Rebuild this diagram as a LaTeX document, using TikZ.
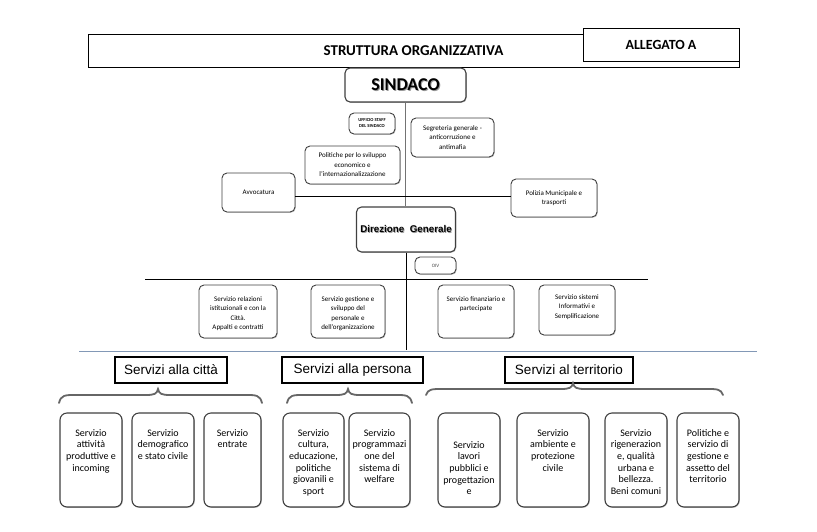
\documentclass[tikz,border=0pt]{standalone}
\usepackage{fontspec}
\setmainfont{Carlito}
\newfontfamily\arialf{Liberation Sans}
\usetikzlibrary{shadows}
\definecolor{sepblue}{RGB}{130,152,182}
\newcommand\shtext[2][1pt]{\makebox[0pt][l]{\hspace{#1}\raisebox{-#1}{\color{black!40}#2}}#2}
\newcommand\hbrace[6]{%
  \draw[bracestyle] (#1,#4) .. controls ({#1+2},#5) and ({#1+6},#5) .. ({#1+16},#5) -- ({#3-12},#5)
   .. controls ({#3-4},#5) and ({#3-1},{#5-1}) .. (#3,#6)
   .. controls ({#3+1},{#5-1}) and ({#3+4},#5) .. ({#3+12},#5) -- ({#2-16},#5)
   .. controls ({#2-6},#5) and ({#2-2},#5) .. (#2,#4);}
\begin{document}
\begin{tikzpicture}[x=1pt,y=-1pt,
  rbox/.style={draw=black!75, line width=0.9pt, rounded corners=5pt, fill=white,
    drop shadow={shadow xshift=0.8pt, shadow yshift=-0.8pt, fill=black!40, opacity=0.6},
    inner sep=0pt, align=center, font=\fontsize{7}{9.5}\selectfont},
  bbox/.style={rbox, line width=1.1pt, rounded corners=7pt, minimum height=94pt},
  small/.style={font=\fontsize{7}{9.5}\selectfont, align=center, inner sep=0pt, anchor=north},
  big/.style={font=\fontsize{10}{11.7}\selectfont, align=center, inner sep=0pt, anchor=north},
  catbox/.style={draw=black, line width=1.6pt, fill=white, font=\arialf\fontsize{13.5}{16}\selectfont,
    inner sep=0pt, minimum height=26pt},
  conn/.style={line width=0.9pt, draw=black},
  bracestyle/.style={line width=1.8pt, draw=black!60, line cap=round},
]
\useasboundingbox (0,0) rectangle (817,531);

% header
\node[draw, line width=1pt, minimum width=651pt, minimum height=33pt, inner sep=0pt,
  font=\bfseries\fontsize{15}{18}\selectfont] (title) at (413.5,50.5) {STRUTTURA ORGANIZZATIVA};
\node[draw, line width=1pt, fill=white, minimum width=156pt, minimum height=33pt, inner sep=0pt,
  font=\bfseries\fontsize{14}{16}\selectfont] (alleg) at (661,44.5) {ALLEGATO A};

% top level
\node[rbox, line width=1.1pt, minimum width=121pt, minimum height=34pt,
  font=\bfseries\fontsize{18}{20}\selectfont] (sindaco) at (405.5,85) {\shtext{SINDACO}};
\node[rbox, minimum width=46pt, minimum height=21pt, font=\bfseries\fontsize{4.6}{6}\selectfont]
  (ufficio) at (372,123.5) {UFFICIO STAFF\\DEL SINDACO};
\node[rbox, minimum width=83pt, minimum height=39pt] (segr) at (452.5,137.5)
  {Segreteria generale -\\anticorruzione e\\antimafia};
\node[rbox, minimum width=95pt, minimum height=38pt] (polit) at (352.5,165)
  {Politiche per lo sviluppo\\economico e\\l'internazionalizzazione};
\node[rbox, minimum width=73pt, minimum height=39pt] (avv) at (258.5,192.5) {Avvocatura};
\node[rbox, minimum width=86pt, minimum height=38pt] (pol) at (554,198)
  {Polizia Municipale e\\trasporti};
\node[rbox, line width=1.1pt, minimum width=99pt, minimum height=45pt,
  font=\arialf\bfseries\fontsize{9.8}{12}\selectfont] (dg) at (406,229.5) {\shtext[0.8pt]{Direzione\ \ Generale}};
\node[rbox, minimum width=41pt, minimum height=17pt, font=\fontsize{5}{6}\selectfont\color{black!70}]
  (oiv) at (435.5,265.5) {OIV};

\coordinate (h1) at (406,196);
\coordinate (hl) at (145,279);
\coordinate (hr) at (648,279);
\coordinate (vend) at (406,350);
\coordinate (bl) at (79,351);
\coordinate (br) at (757,351);

\draw[conn, draw=black!55] (sindaco.south) -- (sindaco.south |- dg.north);
\draw[conn] (avv.east |- h1) -- (pol.west |- h1);
\draw[conn] (hl) -- (hr);
\draw[conn] (dg.south) -- (dg.south |- vend);
\draw[line width=1pt, draw=sepblue] (bl) -- (br);

% second level
\node[rbox, minimum width=78pt, minimum height=53pt] (sA) at (238,311.5) {};
\node[small] (tA) at (238,296) {Servizio relazioni\\istituzionali e con la\\Città.\\Appalti e contratti};
\node[rbox, minimum width=74pt, minimum height=53pt] (sB) at (348,311.5) {};
\node[small] (tB) at (348,296) {Servizio gestione e\\sviluppo del\\personale e\\dell'organizzazione};
\node[rbox, minimum width=76pt, minimum height=53pt] (sC) at (476,311.5) {};
\node[small] (tC) at (476,296) {Servizio finanziario e\\partecipate};
\node[rbox, minimum width=76pt, minimum height=50pt] (sD) at (577,310) {};
\node[small] (tD) at (577,294) {Servizio sistemi\\Informativi e\\Semplificazione};

% categories
\node[catbox, minimum width=112pt] (citta) at (171,370) {Servizi alla città};
\node[catbox, minimum width=141pt] (persona) at (352.5,370) {Servizi alla persona};
\node[catbox, minimum width=128pt] (terr) at (569,370) {Servizi al territorio};

\hbrace{59}{262}{158}{403}{395}{389}
\hbrace{287}{412}{348}{403}{395}{389}
\hbrace{426}{723}{573}{395}{389}{383}

% bottom boxes
\node[bbox, minimum width=62pt] (att) at (91,460) {};
\node[big] (tatt) at (91,429) {Servizio\\attività\\produttive e\\incoming};
\node[bbox, minimum width=62pt] (dem) at (163,460) {};
\node[big] (tdem) at (163,429) {Servizio\\demografico\\e stato civile};
\node[bbox, minimum width=57pt] (ent) at (232.5,460) {};
\node[big] (tent) at (232.5,429) {Servizio\\entrate};
\node[bbox, minimum width=61pt] (cul) at (313.5,460) {};
\node[big] (tcul) at (313.5,429) {Servizio\\cultura,\\educazione,\\politiche\\giovanili e\\sport};
\node[bbox, minimum width=61pt] (prog) at (379.5,460) {};
\node[big] (tprog) at (379.5,429) {Servizio\\programmazi\\one del\\sistema di\\welfare};
\node[bbox, minimum width=62pt] (lav) at (469,460) {};
\node[big] (tlav) at (469,441) {Servizio\\lavori\\pubblici e\\progettazion\\e};
\node[bbox, minimum width=72pt] (amb) at (553,460) {};
\node[big] (tamb) at (553,429) {Servizio\\ambiente e\\protezione\\civile};
\node[bbox, minimum width=62pt] (rig) at (636,460) {};
\node[big] (trig) at (636,429) {Servizio\\rigenerazion\\e, qualità\\urbana e\\bellezza.\\Beni comuni};
\node[bbox, minimum width=62pt] (pgt) at (708,460) {};
\node[big] (tpgt) at (708,429) {Politiche e\\servizio di\\gestione e\\assetto del\\territorio};
\end{tikzpicture}
\end{document}
